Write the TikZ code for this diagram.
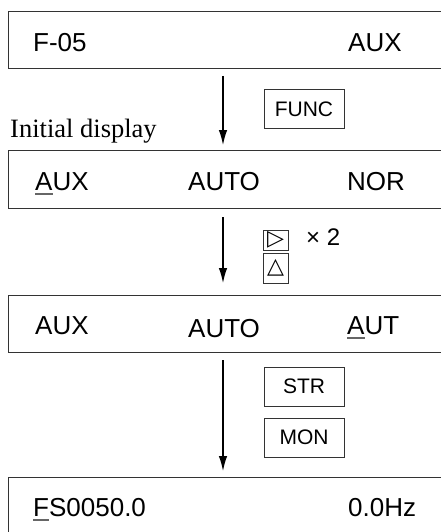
\documentclass[tikz,border=0pt]{standalone}
\usepackage{fontspec}
\setmainfont{Liberation Serif}
\setsansfont{Liberation Sans}
\newfontfamily\symfont{DejaVu Sans}
\usetikzlibrary{arrows.meta, positioning}
\newcommand{\curs}[1]{\setbox0\hbox{#1}\rlap{\color{black!60}\rule[-4.5pt]{\wd0}{1.2pt}}#1}

\begin{document}
\begin{tikzpicture}[x=1pt, y=-1pt,
      display/.style={
        draw=black!80,
        line width=1.3pt,
        minimum width=470pt,
        minimum height=57pt,
        anchor=north west,
        inner sep=0
      },
      lcd/.style={anchor=base west, inner sep=0, font=\sffamily\fontsize{26}{30}\selectfont},
      key/.style={
        draw=black!80,
        line width=1pt,
        minimum width=80pt,
        minimum height=39pt,
        inner sep=0,
        font=\sffamily\fontsize{21}{24}\selectfont
      },
      symkey/.style={key, minimum width=25pt, font=\symfont\fontsize{22}{24}\selectfont},
      flow/.style={-{Latex[length=15pt, width=8.5pt]}, line width=1.2pt}
    ]
    \useasboundingbox (0,0) rectangle (441,532);

    % display panels (cut off at the right)
    \node[display] (disp1) at (8,11) {};
    \node[display, minimum height=58pt] (disp2) at (8,150) {};
    \node[display] (disp3) at (8,295) {};
    \node[display, minimum height=70pt] (disp4) at (8,477) {};

    % panel texts
    \node[lcd] (f05) at (33,51.5) {F-05};
    \node[lcd] (aux1) at (348,51.5) {AUX};
    \node[lcd] (aux2) at (35,190) {\curs{A}UX};
    \node[lcd] (auto2) at (188,190) {AUTO};
    \node[lcd] (nor2) at (347,190) {NOR};
    \node[lcd] (aux3) at (35,334) {AUX};
    \node[lcd] (auto3) at (188,337) {AUTO};
    \node[lcd] (aut3) at (347,334) {\curs{A}UT};
    \node[lcd] (fs4) at (33,516) {\curs{F}S0050.0};
    \node[lcd] (hz4) at (348,516) {0.0Hz};

    \node[anchor=base west, inner sep=0, font=\fontsize{26.5}{30}\selectfont] (initial) at (10,137) {Initial display};

    % keys
    \node[key] (func) at (304,109) {FUNC};
    \node[symkey, minimum height=20pt] (right) at (275.5,240) {▷};
    \node[symkey, minimum height=30pt] (up) at (275.5,268) {△};
    \node[anchor=base west, inner sep=0, font=\sffamily\fontsize{24}{26}\selectfont] (twice) at (306,245) {× 2};
    \node[key] (str) at (304,386.5) {STR};
    \node[key] (mon) at (304,437.5) {MON};

    % arrows
    \coordinate (s1) at (223,76);
    \coordinate (e1) at (223,145);
    \coordinate (s2) at (223,217);
    \coordinate (e2) at (223,283);
    \coordinate (s3) at (223,360);
    \coordinate (e3) at (223,471);
    \draw[flow] (s1) -- (e1);
    \draw[flow] (s2) -- (e2);
    \draw[flow] (s3) -- (e3);
  \end{tikzpicture}
\end{document}
